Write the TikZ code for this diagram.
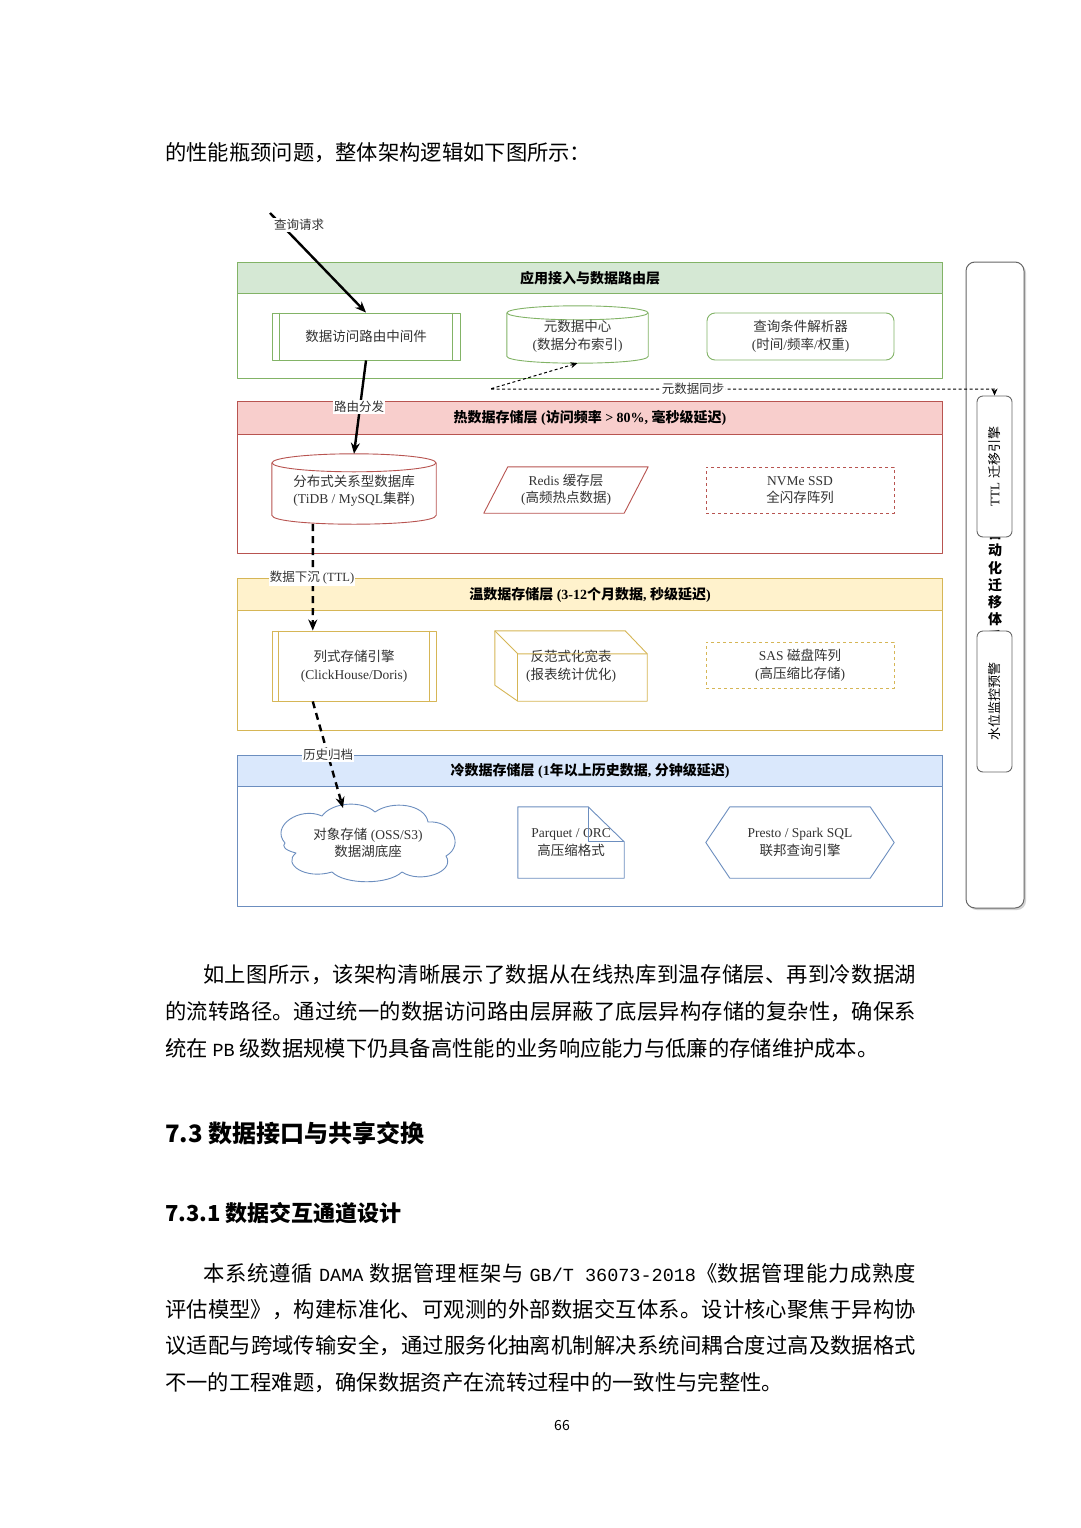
\documentclass[tikz,border=0pt]{standalone}
\usepackage{fontspec}
\setmainfont{Liberation Serif}
\newfontfamily\zhfont{Noto Sans CJK SC}
\newfontfamily\enmono{Liberation Mono}
\newcommand\zh[1]{{\zhfont #1}}
\newcommand\mono[1]{\hbox{\enmono\fontsize{18.5}{36}\selectfont #1}}
\usetikzlibrary{arrows.meta,shadows,calc}
\XeTeXlinebreaklocale "zh"
\XeTeXlinebreakskip=0pt plus 2pt

\definecolor{appline}{HTML}{82B366}
\definecolor{appfill}{HTML}{D5E8D4}
\definecolor{hotline}{HTML}{B85450}
\definecolor{hotfill}{HTML}{F8CECC}
\definecolor{warmline}{HTML}{D6B656}
\definecolor{warmfill}{HTML}{FFF2CC}
\definecolor{coldline}{HTML}{6C8EBF}
\definecolor{coldfill}{HTML}{DAE8FC}
\definecolor{sideline}{HTML}{666666}
\definecolor{txtgray}{HTML}{333333}

\tikzset{
  lane/.style={draw=#1, fill=white, line width=1pt, minimum width=705, inner sep=0pt, anchor=north west},
  lanehead/.style 2 args={draw=#1, fill=#2, line width=1pt, minimum width=705, minimum height=32,
    inner sep=0pt, anchor=north west, font=\bfseries\fontsize{14}{17}\selectfont, text=black},
  boxtxt/.style={align=center, inner sep=0pt, font=\fontsize{13.5}{17.5}\selectfont, text=txtgray},
  procbox/.style={boxtxt, draw=#1, fill=white, line width=0.9pt},
  outline/.style={draw=#1, line width=0.9pt},
  sidebox/.style={draw=sideline, fill=white, line width=0.9pt, rounded corners=6pt,
    minimum width=35, minimum height=141, inner sep=0pt},
  sidetxt/.style={inner sep=0pt, font=\fontsize{13}{15}\selectfont, text=black},
  flow/.style={line width=2.4pt, -{Stealth[length=11pt,width=9pt]}},
  sinkflow/.style={flow, dash pattern=on 7pt off 5pt},
  sync/.style={line width=1pt, dash pattern=on 3pt off 2.5pt,
    {Stealth[length=7pt,width=6pt]}-{Stealth[length=7pt,width=6pt]}},
  lbl/.style={fill=white, inner sep=1pt, font=\fontsize{12.5}{14}\selectfont, text=txtgray},
  para/.style={inner sep=0pt, anchor=base west, font=\zhfont\fontsize{21.3}{37}\selectfont},
}

\begin{document}
\begin{tikzpicture}[x=1pt, y=-1pt, line join=round]
  \fill[white] (0,0) rectangle (1080,1528);

  %% ---- text above the figure ----
  \node[para] (intro) at (165,160) {的性能瓶颈问题，整体架构逻辑如下图所示：};

  %% ---- layers ----
  \node[lane=appline, minimum height=116] (appL) at (237,262) {};
  \node[lanehead={appline}{appfill}, minimum height=31] (appH) at (237,262) {\zh{应用接入与数据路由层}};
  \node[lane=hotline, minimum height=152] (hotL) at (237,401) {};
  \node[lanehead={hotline}{hotfill}, minimum height=33] (hotH) at (237,401)
    {\zh{热数据存储层} (\zh{访问频率} > 80\%, \zh{毫秒级延迟})};
  \node[lane=warmline, minimum height=152] (warmL) at (237,578) {};
  \node[lanehead={warmline}{warmfill}] (warmH) at (237,578)
    {\zh{温数据存储层} (3-12\zh{个月数据}, \zh{秒级延迟})};
  \node[lane=coldline, minimum height=151] (coldL) at (237,755) {};
  \node[lanehead={coldline}{coldfill}, minimum height=31] (coldH) at (237,755)
    {\zh{冷数据存储层} (1\zh{年以上历史数据}, \zh{分钟级延迟})};

  %% ---- access layer ----
  \node[procbox=appline, minimum width=188, minimum height=47] (route) at (366,336.5) {\zh{数据访问路由中间件}};
  \draw[outline=appline] ([xshift=8pt]route.north west) -- ([xshift=8pt]route.south west);
  \draw[outline=appline] ([xshift=-8pt]route.north east) -- ([xshift=-8pt]route.south east);

  \node[minimum width=141, minimum height=57, inner sep=0pt] (meta) at (577.5,334.5) {};
  \draw[outline=appline] ([yshift=-7pt]meta.north west) -- ([yshift=7pt]meta.south west)
    .. controls ([yshift=-2.33pt]meta.south west) and ([yshift=-2.33pt]meta.south east) .. ([yshift=7pt]meta.south east)
    -- ([yshift=-7pt]meta.north east);
  \draw[outline=appline] ([yshift=-7pt]meta.north) ellipse [x radius=70.5pt, y radius=7pt];
  \node[boxtxt] (metaT) at ([yshift=-2pt]meta.center) {\zh{元数据中心}\\(\zh{数据分布索引})};

  \node[procbox=appline, rounded corners=8pt, minimum width=187, minimum height=47] (parser) at (800.5,336.5)
    {\zh{查询条件解析器}\\(\zh{时间}/\zh{频率}/\zh{权重})};

  %% ---- hot layer ----
  \node[minimum width=164, minimum height=70, inner sep=0pt] (db) at (354,489) {};
  \draw[outline=hotline] ([yshift=-9pt]db.north west) -- ([yshift=9pt]db.south west)
    .. controls ([yshift=-3pt]db.south west) and ([yshift=-3pt]db.south east) .. ([yshift=9pt]db.south east)
    -- ([yshift=-9pt]db.north east);
  \draw[outline=hotline] ([yshift=-9pt]db.north) ellipse [x radius=82pt, y radius=9pt];
  \node[boxtxt] (dbT) at ([yshift=-2pt]db.center) {\zh{分布式关系型数据库}\\(TiDB / MySQL\zh{集群})};

  \node[boxtxt, minimum width=164, minimum height=46] (redis) at (566,490) {Redis \zh{缓存层}\\(\zh{高频热点数据})};
  \draw[outline=hotline] ([xshift=24pt]redis.north west) -- (redis.north east)
    -- ([xshift=-24pt]redis.south east) -- (redis.south west) -- cycle;

  \node[procbox=hotline, dashed, minimum width=188, minimum height=46] (nvme) at (800,490) {NVMe SSD\\\zh{全闪存阵列}};

  %% ---- warm layer ----
  \node[procbox=warmline, minimum width=164, minimum height=70] (col) at (354,666) {\zh{列式存储引擎}\\(ClickHouse/Doris)};
  \draw[outline=warmline] ([xshift=7pt]col.north west) -- ([xshift=7pt]col.south west);
  \draw[outline=warmline] ([xshift=-7pt]col.north east) -- ([xshift=-7pt]col.south east);

  \node[boxtxt, minimum width=152, minimum height=70] (wide) at (571,666) {\zh{反范式化宽表}\\(\zh{报表统计优化})};
  \draw[outline=warmline] (wide.north west) -- ([xshift=-22pt]wide.north east) -- ([yshift=-23pt]wide.north east)
    -- (wide.south east) -- ([xshift=23pt]wide.south west) -- ([yshift=16pt]wide.south west) -- cycle;
  \draw[outline=warmline] (wide.north west) -- ([xshift=23pt,yshift=-23pt]wide.north west) -- ([yshift=-23pt]wide.north east);
  \draw[outline=warmline] ([xshift=23pt,yshift=-23pt]wide.north west) -- ([xshift=23pt]wide.south west);

  \node[procbox=warmline, dashed, minimum width=188, minimum height=46] (sas) at (800,665) {SAS \zh{磁盘阵列}\\(\zh{高压缩比存储})};

  %% ---- cold layer ----
  \node[boxtxt, minimum width=170, minimum height=70] (obj) at (368,843) {\zh{对象存储} (OSS/S3)\\\zh{数据湖底座}};
  \draw[outline=coldline] (285,843) .. controls (270,826) and (300,806) .. (322,816)
    .. controls (332,802) and (362,800) .. (375,812)
    .. controls (392,800) and (425,804) .. (428,822)
    .. controls (452,820) and (465,845) .. (446,856)
    .. controls (456,872) and (420,884) .. (402,872)
    .. controls (388,885) and (345,885) .. (332,872)
    .. controls (305,880) and (282,864) .. (296,853)
    .. controls (284,850) and (282,846) .. (285,843) -- cycle;

  \node[boxtxt, minimum width=106, minimum height=71] (pq) at (571,842.5) {Parquet / ORC\\\zh{高压缩格式}};
  \draw[outline=coldline] (pq.north west) -- ([xshift=-36pt]pq.north east) -- ([yshift=-35pt]pq.north east)
    -- (pq.south east) -- (pq.south west) -- cycle;
  \draw[outline=coldline] ([xshift=-36pt]pq.north east) -- ([xshift=-36pt,yshift=-35pt]pq.north east) -- ([yshift=-35pt]pq.north east);

  \node[boxtxt, minimum width=188, minimum height=71] (fed) at (800,842.5) {Presto / Spark SQL\\\zh{联邦查询引擎}};
  \draw[outline=coldline] (fed.west) -- ([xshift=24pt]fed.north west) -- ([xshift=-24pt]fed.north east)
    -- (fed.east) -- ([xshift=-24pt]fed.south east) -- ([xshift=24pt]fed.south west) -- cycle;

  %% ---- side column ----
  \node[draw=sideline, fill=white, line width=1pt, rounded corners=9pt, minimum width=58, minimum height=646,
    drop shadow={opacity=0.35, shadow xshift=2pt, shadow yshift=-2pt}, align=center, inner sep=0pt,
    font=\zhfont\bfseries\fontsize{14}{17.3}\selectfont] (mig) at (995,585) {自\\动\\化\\迁\\移\\体\\系};
  \node[sidebox] (ttl) at (994.5,466.5) {};
  \node[sidetxt, rotate=90] (ttlT) at (ttl) {TTL \zh{迁移引擎}};
  \node[sidebox] (wm) at (994.5,701.5) {};
  \node[sidetxt, rotate=90] (wmT) at (wm) {\zh{水位监控预警}};

  %% ---- connectors ----
  \coordinate (req) at (270,213);
  \draw[flow] (req) -- (route.north);
  \node[lbl] (reqL) at (299,225) {\zh{查询请求}};

  \draw[flow] (route.south) -- (db.north);
  \node[lbl] (routeL) at (359,407) {\zh{路由分发}};

  \draw[sinkflow] ($(db.south west)!0.25!(db.south east)$) -- ($(col.north west)!0.25!(col.north east)$);
  \node[lbl] (sinkL) at (312,578) {\zh{数据下沉} (TTL)};

  \draw[sinkflow] ($(col.south west)!0.25!(col.south east)$) -- (343,808);
  \node[lbl] (archL) at (328,755) {\zh{历史归档}};

  \draw[sync] (meta.south) -- (490,389) -| (ttl.north);
  \node[lbl] (syncL) at (693,389) {\zh{元数据同步}};

  %% ---- text below the figure ----
  \node[para, text width=751, align=justify] (para1) at (165,982)
    {\hspace*{38pt}如上图所示，该架构清晰展示了数据从在线热库到温存储层、再到冷数据湖\linebreak 的流转路径。通过统一的数据访问路由层屏蔽了底层异构存储的复杂性，确保系\linebreak 统在 \mono{PB} 级数据规模下仍具备高性能的业务响应能力与低廉的存储维护成本。};

  \node[para, font=\zhfont\bfseries\fontsize{24}{28}\selectfont] (sec73) at (165,1142) {7.3 数据接口与共享交换};
  \node[para, font=\zhfont\bfseries\fontsize{22}{26}\selectfont] (sec731) at (165,1221) {7.3.1 数据交互通道设计};

  \node[para, text width=751, align=justify, font=\zhfont\fontsize{21.3}{36.4}\selectfont] (para2) at (165,1281)
    {\hspace*{38pt}本系统遵循 \mono{DAMA} 数据管理框架与 \mono{GB/T 36073-2018}《数据管理能力成熟度\linebreak 评估模型》，构建标准化、可观测的外部数据交互体系。设计核心聚焦于异构协\linebreak 议适配与跨域传输安全，通过服务化抽离机制解决系统间耦合度过高及数据格式\linebreak 不一的工程难题，确保数据资产在流转过程中的一致性与完整性。};

  \node[inner sep=0pt, font=\zhfont\fontsize{14}{16}\selectfont] (pgno) at (562,1425) {66};

  \pgfresetboundingbox
  \path[use as bounding box] (0,0) rectangle (1080,1528);
\end{tikzpicture}
\end{document}
